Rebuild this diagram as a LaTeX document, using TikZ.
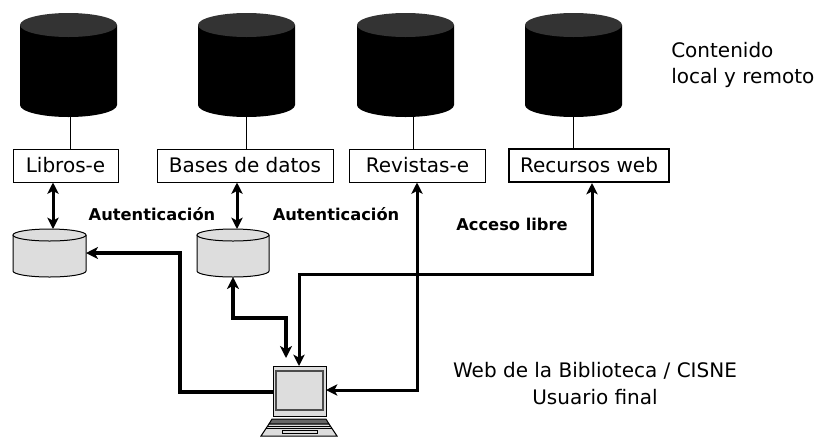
\documentclass[tikz,border=0pt]{standalone}
\usepackage{fontspec}
\setmainfont{DejaVu Sans}
\newfontfamily\boldf{DejaVu Sans Bold}
\usetikzlibrary{arrows.meta,calc}
\tikzset{
  x=0.75pt,y=-0.75pt,
  lbl/.style={font=\fontsize{15pt}{18pt}\selectfont,inner sep=0pt},
  boldlbl/.style={font=\boldf\fontsize{12.2pt}{14pt}\selectfont,inner sep=0pt},
  itembox/.style={draw=black,line width=0.75pt,fill=white,font=\fontsize{15pt}{18pt}\selectfont,inner sep=0pt},
  thin link/.style={line width=0.75pt},
  big link/.style={line width=2.3pt,line join=miter,-{Stealth[length=9pt,width=9pt,inset=2.5pt]}},
  both link/.style={line width=2.3pt,{Stealth[length=9pt,width=9pt,inset=2.5pt]}-{Stealth[length=9pt,width=9pt,inset=2.5pt]}},
  slim both/.style={line width=2.25pt,{Stealth[length=8.5pt,width=8.5pt,inset=2.2pt]}-{Stealth[length=8.5pt,width=8.5pt,inset=2.2pt]}},
  anchorbox/.style={inner sep=0pt,outer sep=0pt},
}
\definecolor{lgray}{HTML}{DDDDDD}
\definecolor{dtop}{HTML}{333333}
% name, left, top, right, bottom, ry, body, top colour
\newcommand{\mycyl}[8]{%
  \fill[#7] (#2,#3+#6) -- (#2,#5-#6) arc[start angle=180,end angle=0,x radius={(#4-#2)/2},y radius=#6] -- (#4,#3+#6) -- cycle;
  \fill[#8] ({(#2+#4)/2},#3+#6) ellipse [x radius={(#4-#2)/2},y radius=#6];
  \node[anchorbox,minimum width={(#4-#2)*0.75pt},minimum height={(#5-#3)*0.75pt}] (#1) at ({(#2+#4)/2},{(#3+#5)/2}) {};
}
\newcommand{\mygcyl}[7]{%
  \draw[line width=0.75pt,fill=#7] (#2,#3+#6) -- (#2,#5-#6) arc[start angle=180,end angle=0,x radius={(#4-#2)/2},y radius=#6] -- (#4,#3+#6);
  \draw[line width=0.75pt,fill=#7] ({(#2+#4)/2},#3+#6) ellipse [x radius={(#4-#2)/2},y radius=#6];
  \node[anchorbox,minimum width={(#4-#2)*0.75pt},minimum height={(#5-#3)*0.75pt}] (#1) at ({(#2+#4)/2},{(#3+#5)/2}) {};
}
\begin{document}
\begin{tikzpicture}
\useasboundingbox (0,0) rectangle (825,437);
\mycyl{c1}{20}{13}{117}{117}{12}{black}{dtop}
\mycyl{c2}{198}{13}{295}{117}{12}{black}{dtop}
\mycyl{c3}{357}{13}{454}{117}{12}{black}{dtop}
\mycyl{c4}{525}{13}{622}{117}{12}{black}{dtop}
\node[itembox,minimum width=78.75pt,minimum height=24.75pt] (b1) at (65.5,165.5) {Libros-e};
\node[itembox,minimum width=132pt,minimum height=24.75pt] (b2) at (245,165.5) {Bases de datos};
\node[itembox,minimum width=102pt,minimum height=24.75pt] (b3) at (417.5,165.5) {Revistas-e};
\node[itembox,line width=1.5pt,minimum width=120pt,minimum height=24.75pt] (b4) at (589,165.5) {Recursos web};
\coordinate (x1) at (70,0);
\coordinate (x2) at (246,0);
\coordinate (x3) at (413,0);
\coordinate (x4) at (573,0);
\draw[thin link] (c1.south -| x1) -- (b1.north -| x1);
\draw[thin link] (c2.south -| x2) -- (b2.north -| x2);
\draw[thin link] (c3.south -| x3) -- (b3.north -| x3);
\draw[thin link] (c4.south -| x4) -- (b4.north -| x4);
\mygcyl{g1}{13}{229}{86}{277}{6}{lgray}
\mygcyl{g2}{197}{229}{269}{277}{6}{lgray}
\coordinate (xa) at (53,0);
\coordinate (xb) at (237,0);
\draw[slim both] (b1.south -| xa) -- (g1.north -| xa);
\draw[slim both] (b2.south -| xb) -- (g2.north -| xb);
% laptop
\node[anchorbox,draw=black,line width=0.75pt,fill=lgray,minimum width=39.75pt,minimum height=37.5pt] (pc) at (299.5,391) {};
\draw[line width=1pt,draw=black!70,fill=lgray] (276,371) rectangle (323,410);
\draw[line width=0.75pt,fill=black!60] (272,419) -- (326,419) -- (329,424) -- (269,424) -- cycle;
\draw[line width=0.75pt,fill=lgray] (269,424) -- (329,424) -- (337,436) -- (261,436) -- cycle;
\draw[line width=0.7pt] (268,426.5) -- (331,426.5);
\draw[line width=0.7pt] (266,428.5) -- (332,428.5);
\draw[line width=0.7pt] (282,430) rectangle (317,433);
% arrows
\coordinate (p1) at (180,253);
\coordinate (p2) at (233,318);
\coordinate (p3) at (286,318);
\coordinate (p4) at (592,274);
\coordinate (p5) at (299,274);
\coordinate (p6) at (417,390);
\coordinate (t2) at (286,358);
\draw[big link] ($(pc.west)+(0,1)$) -| (p1) -- (g1.east |- p1);
\draw[both link] (g2.south -| p2) -- (p2) -- (p3) -- (t2);
\draw[slim both] (b4.south -| p4) -- (p4) -- (p5) -- (pc.north -| p5);
\draw[slim both] (b3.south -| p6) -- (p6) -- (pc.east |- p6);
% text
\node[lbl,anchor=west] (t1) at (671,50) {Contenido};
\node[lbl,anchor=west] (t3) at (671,78) {local y remoto};
\node[boldlbl] (a1) at (152,214) {Autenticación};
\node[boldlbl] (a2) at (336,214) {Autenticación};
\node[boldlbl] (a3) at (512,224) {Acceso libre};
\node[lbl] (w1) at (595,371) {Web de la Biblioteca / CISNE};
\node[lbl] (w2) at (595,397) {Usuario final};
\end{tikzpicture}
\end{document}
